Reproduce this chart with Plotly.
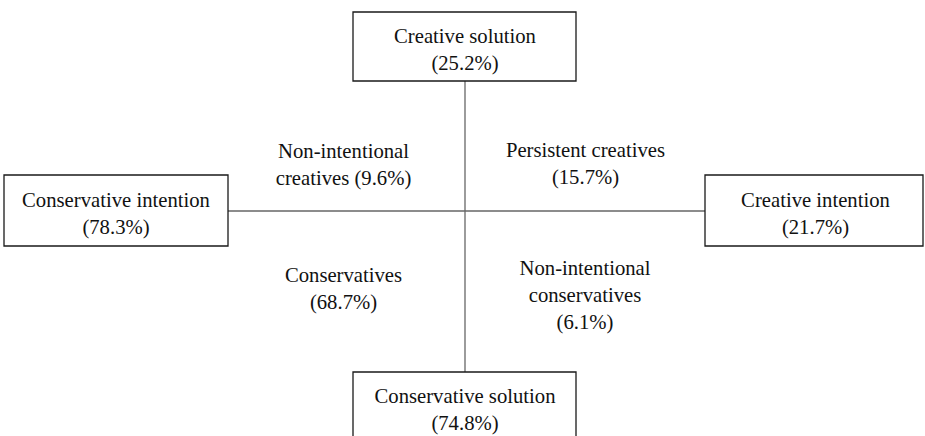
import plotly.graph_objects as go

# Data
box_labels = ["Creative solution", "Conservative intention", "Creative intention", "Conservative solution"]
box_values = [25.2, 78.3, 21.7, 74.8]
quadrant_labels = ["Non-intentional<br>creatives", "Persistent creatives", "Conservatives", "Non-intentional<br>conservatives"]
quadrant_values = [9.6, 15.7, 68.7, 6.1]

# Layout (pixel coordinates)
W, H = 925, 436
box_rects = [(353, 12, 576, 81), (4, 175, 228, 246), (705, 175, 923, 246), (353, 372, 576, 460)]
box_text_pos = [(465, 51.5), (116, 215), (815.5, 215), (465, 411)]
quad_text_pos = [(343.5, 166), (585.5, 165.5), (343.5, 290), (585, 297)]
cx, cy = 465, 211

fig = go.Figure()

shapes = []
# connecting lines
shapes.append(dict(type="line", x0=cx, x1=cx, y0=81, y1=372, layer="below",
                   line=dict(color="#666666", width=1.3)))
shapes.append(dict(type="line", x0=228, x1=705, y0=cy, y1=cy, layer="below",
                   line=dict(color="#666666", width=1.3)))
for (x0, y0, x1, y1) in box_rects:
    shapes.append(dict(type="rect", x0=x0, x1=x1, y0=y0, y1=y1,
                       line=dict(color="#1a1a1a", width=1.3), fillcolor="white", layer="below"))

font = dict(family="Liberation Serif", size=20.7, color="#111111")

box_texts = [f"{l}<br>({v}%)" for l, v in zip(box_labels, box_values)]
fig.add_trace(go.Scatter(
    x=[p[0] for p in box_text_pos], y=[p[1] for p in box_text_pos],
    mode="text", text=box_texts, textposition="middle center",
    textfont=font, hoverinfo="skip", showlegend=False, cliponaxis=False))

quad_texts = []
for l, v in zip(quadrant_labels, quadrant_values):
    if l == "Non-intentional<br>creatives":
        quad_texts.append(f"{l} ({v}%)")
    else:
        quad_texts.append(f"{l}<br>({v}%)")
fig.add_trace(go.Scatter(
    x=[p[0] for p in quad_text_pos], y=[p[1] for p in quad_text_pos],
    mode="text", text=quad_texts, textposition="middle center",
    textfont=font, hoverinfo="skip", showlegend=False))

fig.update_layout(
    width=W, height=H,
    margin=dict(l=0, r=0, t=0, b=0),
    paper_bgcolor="white", plot_bgcolor="white",
    shapes=shapes,
    xaxis=dict(range=[0, W], visible=False, fixedrange=True),
    yaxis=dict(range=[H, 0], visible=False, fixedrange=True),
)

fig.write_html("out.html", config={"displayModeBar": False},
               post_script="document.body.style.margin='0px';document.body.style.overflow='hidden';")
